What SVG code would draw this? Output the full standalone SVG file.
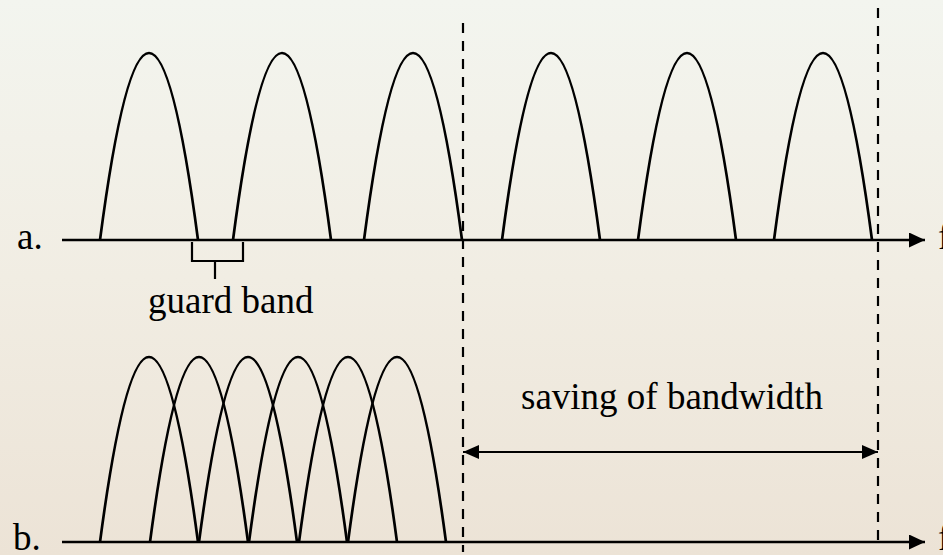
<svg xmlns="http://www.w3.org/2000/svg" width="943" height="555" viewBox="0 0 943 555">
<defs>
<linearGradient id="bg" x1="0" y1="0" x2="0" y2="1">
<stop offset="0" stop-color="#f3f5ef"/>
<stop offset="0.5" stop-color="#f1ede3"/>
<stop offset="1" stop-color="#ece3d6"/>
</linearGradient>
<marker id="arr" markerWidth="16" markerHeight="15" refX="16" refY="7.5" orient="auto" markerUnits="userSpaceOnUse">
<path d="M0,0 L16,7.5 L0,15 Z" fill="#000"/>
</marker>
<marker id="arrS" markerWidth="16" markerHeight="14" refX="16" refY="7" orient="auto-start-reverse" markerUnits="userSpaceOnUse">
<path d="M0,0 L16,7 L0,14 Z" fill="#000"/>
</marker>
<path id="arch" d="M0,0 Q49,-374 98,0"/>
<path id="archb" d="M0,0 Q49,-370 98,0"/>
</defs>
<style>
.txt{font-family:"Liberation Serif","Times New Roman",serif;font-size:37px;fill:#000}
.curve{fill:none;stroke:#000;stroke-width:2.7}
.axis{fill:none;stroke:#000;stroke-width:2.7}
.dash{fill:none;stroke:#000;stroke-width:2.2;stroke-dasharray:10 8}
.thin{fill:none;stroke:#000;stroke-width:2.2}
</style>
<rect width="943" height="555" fill="url(#bg)"/>

<g id="spectrum-a">
<use href="#arch" class="curve" x="100" y="240"/>
<use href="#arch" class="curve" x="233" y="240"/>
<use href="#arch" class="curve" x="364" y="240"/>
<use href="#arch" class="curve" x="502" y="240"/>
<use href="#arch" class="curve" x="638" y="240"/>
<use href="#arch" class="curve" x="774" y="240"/>
</g>

<g id="spectrum-b">
<use href="#archb" class="curve" x="100" y="542"/>
<use href="#archb" class="curve" x="150" y="542"/>
<use href="#archb" class="curve" x="199" y="542"/>
<use href="#archb" class="curve" x="249" y="542"/>
<use href="#archb" class="curve" x="299" y="542"/>
<use href="#archb" class="curve" x="348" y="542"/>
</g>

<g id="guard-band">
<path class="thin" d="M192,242 V261 H243 V242 M215,261 V279"/>
<text class="txt" x="148" y="313">guard band</text>
</g>

<g id="labels">
<text class="txt" x="17" y="249">a.</text>
<text class="txt" x="13" y="550">b.</text>
<text class="txt" x="938" y="249">f</text>
<text class="txt" x="938" y="550">f</text>
<text class="txt" x="521" y="409">saving of bandwidth</text>
</g>

<g id="connectors">
<line class="axis" x1="62" y1="240" x2="925" y2="240" marker-end="url(#arr)"/>
<line class="axis" x1="62" y1="542" x2="925" y2="542" marker-end="url(#arr)"/>
<line class="dash" x1="463" y1="23" x2="463" y2="552"/>
<line class="dash" x1="878" y1="8" x2="878" y2="540"/>
<line class="thin" x1="463" y1="452" x2="878" y2="452" marker-start="url(#arrS)" marker-end="url(#arrS)"/>
</g>
</svg>
